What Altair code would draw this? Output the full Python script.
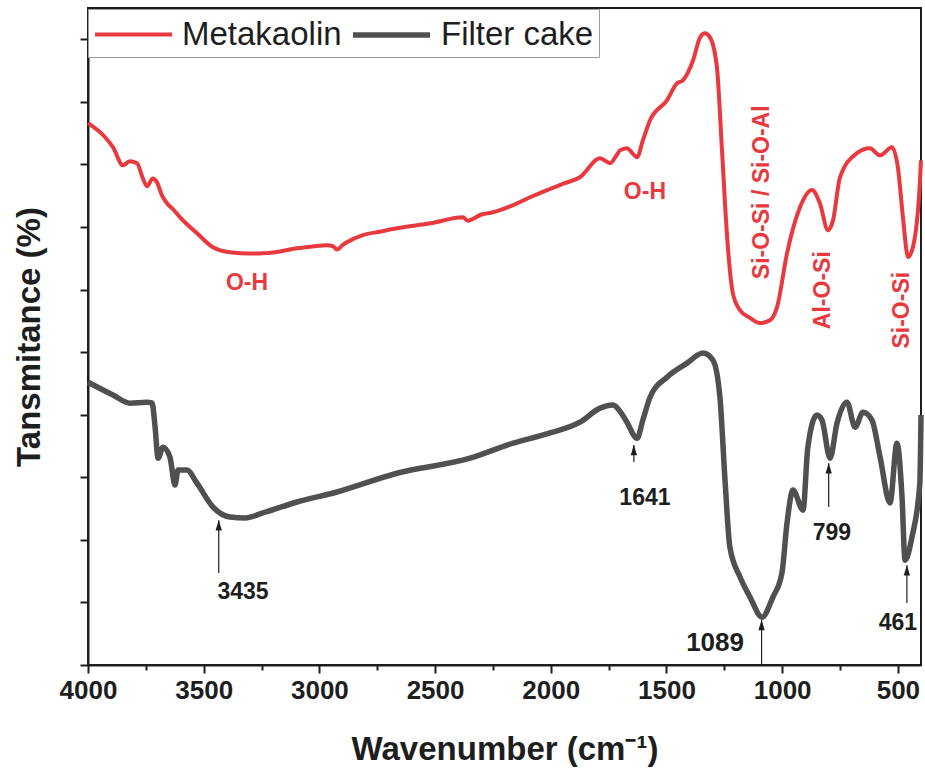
import altair as alt
import pandas as pd

# FTIR spectra: wavenumber (cm^-1) and transmittance (arbitrary offset units)
mk_wn = [4000, 3930, 3892, 3849, 3820, 3788, 3765, 3745, 3720, 3702, 3680, 3659, 3630,
         3602, 3529, 3460, 3386, 3300, 3244, 3170, 3097, 3030, 2967, 2940, 2924, 2900,
         2881, 2812, 2740, 2665, 2520, 2379, 2360, 2349, 2300, 2250, 2163, 2090, 2016,
         1940, 1874, 1787, 1744, 1715, 1701, 1671, 1640, 1627, 1602, 1571, 1498, 1455,
         1429, 1385, 1355, 1334, 1312, 1282, 1260, 1239, 1213, 1182, 1140, 1096, 1053,
         1022, 979, 923, 871, 837, 802, 780, 750, 677, 621, 577, 526, 500, 478, 456,
         435, 405, 400]
mk_t = [17.32, 16.90, 16.55, 15.97, 16.10, 16.04, 15.60, 15.30, 15.55, 15.43, 15.00,
        14.76, 14.55, 14.31, 13.80, 13.35, 13.19, 13.15, 13.16, 13.22, 13.32, 13.38,
        13.42, 13.38, 13.28, 13.42, 13.51, 13.74, 13.85, 13.96, 14.12, 14.31, 14.20,
        14.22, 14.40, 14.47, 14.70, 14.95, 15.18, 15.40, 15.59, 16.20, 16.04, 16.30,
        16.45, 16.52, 16.30, 16.23, 16.77, 17.41, 18.05, 18.59, 18.69, 19.33, 20.06,
        20.19, 20.06, 19.11, 16.45, 13.80, 11.88, 11.34, 11.10, 10.93, 11.02, 11.44,
        13.16, 14.63, 15.18, 14.76, 13.90, 14.22, 15.59, 16.36, 16.52, 16.29, 16.55,
        15.91, 14.31, 13.04, 13.35, 15.40, 16.13]

fc_wn = [4000, 3892, 3818, 3745, 3723, 3710, 3697, 3676, 3646, 3624, 3611, 3572, 3529,
         3460, 3386, 3320, 3244, 3097, 2924, 2665, 2349, 2163, 2010, 1874, 1787, 1731,
         1700, 1671, 1627, 1602, 1571, 1498, 1411, 1342, 1299, 1269, 1247, 1226, 1182,
         1139, 1087, 1040, 1001, 979, 953, 910, 889, 850, 828, 793, 763, 720, 685, 651,
         612, 577, 534, 504, 482, 469, 439, 405, 400]
fc_t = [9.04, 8.63, 8.37, 8.40, 8.37, 7.60, 6.61, 6.96, 6.65, 5.75, 6.23, 6.23, 5.81,
        5.05, 4.73, 4.70, 4.86, 5.21, 5.53, 6.13, 6.61, 7.09, 7.40, 7.76, 8.21, 8.31,
        8.10, 7.76, 7.25, 7.83, 8.56, 9.20, 9.65, 9.97, 9.74, 8.56, 5.91, 3.77, 2.81,
        2.17, 1.53, 2.17, 2.94, 4.54, 5.59, 4.95, 6.96, 7.99, 7.83, 6.61, 7.73, 8.40,
        7.60, 8.08, 7.83, 6.65, 5.18, 7.09, 5.37, 3.35, 4.09, 5.81, 7.99]

series_names = ["Metakaolin", "Filter cake"]
series_colors = ["#e8393f", "#505050"]
series_widths = [4, 5.5]

# Band assignments written in red next to the Metakaolin curve
band_text = ["O-H", "O-H", "Si-O-Si / Si-O-Al", "Al-O-Si", "Si-O-Si"]
band_wn = [3313, 1593, 1087, 824, 482]
band_t = [12.2, 15.12, 15.11, 11.98, 11.34]
band_angle = [0, 0, 270, 270, 270]

# Peak markers on the Filter cake curve
peak_wn = [3435, 1641, 1089, 799, 461]
peak_tip = [4.63, 7.03, 1.44, 6.45, 3.19]
peak_tail = [2.94, 6.49, 0.0, 5.05, 1.98]
peak_label = ["3435", "1641", "1089", "799", "461"]
peak_label_wn = [3330, 1593, 1290, 785, 500]
peak_label_t = [2.33, 5.34, 0.70, 4.22, 1.34]
peak_label_size = [23, 23, 26, 23, 23]

x_ticks = list(range(4000, 499, -250))
y_ticks = list(range(0, 21))

spectra = pd.concat([
    pd.DataFrame({"wn": mk_wn, "t": mk_t, "series": series_names[0]}),
    pd.DataFrame({"wn": fc_wn, "t": fc_t, "series": series_names[1]}),
])
bands = pd.DataFrame({"wn": band_wn, "t": band_t, "text": band_text, "angle": band_angle})
peaks = pd.DataFrame({"wn": peak_wn, "tip": peak_tip, "tail": peak_tail})
peak_labels = pd.DataFrame({"wn": peak_label_wn, "t": peak_label_t,
                            "text": peak_label, "size": peak_label_size})

FONT = "Liberation Sans"
INK = "#1e1e1e"

x_scale = alt.Scale(domain=[400, 4000], reverse=True, nice=False, zero=False)
y_scale = alt.Scale(domain=[0, 21], nice=False, zero=False)

x_axis = alt.Axis(
    values=x_ticks, format="d", grid=False,
    labelExpr="datum.value % 500 === 0 ? datum.label : ''",
    tickSize={"condition": {"test": "datum.value % 500 === 0", "value": 8}, "value": 5},
    tickWidth=2, tickColor=INK, domainColor=INK, domainWidth=2,
    labelFont=FONT, labelFontSize=26, labelFontWeight="bold", labelColor=INK,
    labelPadding=4, labelFlush=False,
    title="Wavenumber (cm⁻¹)", titleFont=FONT, titleFontSize=33,
    titleFontWeight="bold", titleColor=INK, titlePadding=30,
)
y_axis = alt.Axis(
    values=y_ticks, labels=False, grid=False,
    tickSize={"condition": {"test": "datum.value % 2 === 0", "value": 8}, "value": 5},
    tickWidth=2, tickColor=INK, domainColor=INK, domainWidth=2,
    title="Tansmitance (%)", titleFont=FONT, titleFontSize=33,
    titleFontWeight="bold", titleColor=INK, titlePadding=33,
)

# A short nominal symbol keeps the legend row compact; the path itself runs
# further to the right so the drawn swatch is a long stroke.
legend_swatch = "M-1,0H3.28"

lines = alt.Chart(spectra).mark_line(interpolate="monotone", strokeJoin="round").encode(
    x=alt.X("wn:Q", scale=x_scale, axis=x_axis),
    y=alt.Y("t:Q", scale=y_scale, axis=y_axis),
    color=alt.Color(
        "series:N",
        scale=alt.Scale(domain=series_names, range=series_colors),
        legend=alt.Legend(
            title=None, orient="none", legendX=0, legendY=1, direction="horizontal",
            symbolType=legend_swatch, symbolSize=1296, symbolStrokeWidth=5,
            labelFont=FONT, labelFontSize=33, labelColor=INK, labelOffset=49,
            columnPadding=0, padding=5, fillColor="white", strokeColor="#9a9a9a",
        ),
    ),
    strokeWidth=alt.StrokeWidth("series:N",
                                scale=alt.Scale(domain=series_names, range=series_widths),
                                legend=None),
    order=alt.Order("wn:Q", sort="descending"),
    detail="series:N",
)

band_marks = alt.Chart(bands).mark_text(
    font=FONT, fontSize=23, fontWeight="bold", color="#e8393f",
    align="center", baseline="middle",
).encode(
    x=alt.X("wn:Q", scale=x_scale),
    y=alt.Y("t:Q", scale=y_scale),
    text="text:N",
    angle=alt.Angle("angle:Q", scale=None),
)

arrow_shafts = alt.Chart(peaks).mark_rule(color=INK, strokeWidth=1.2).encode(
    x=alt.X("wn:Q", scale=x_scale),
    y=alt.Y("tip:Q", scale=y_scale),
    y2="tail:Q",
)
arrow_heads = alt.Chart(peaks).mark_point(
    shape="M0,-1L0.6,1L-0.6,1Z", filled=True, color=INK, opacity=1,
    size=110, yOffset=5,
).encode(
    x=alt.X("wn:Q", scale=x_scale),
    y=alt.Y("tip:Q", scale=y_scale),
)
peak_text = alt.Chart(peak_labels).mark_text(
    font=FONT, fontWeight="bold", color=INK, align="center", baseline="middle",
).encode(
    x=alt.X("wn:Q", scale=x_scale),
    y=alt.Y("t:Q", scale=y_scale),
    text="text:N",
    size=alt.Size("size:Q", scale=None),
)

chart = alt.layer(lines, band_marks, arrow_shafts, arrow_heads, peak_text).properties(
    width=833, height=657,
    padding={"left": 88, "top": 8, "right": 4, "bottom": 111},
    autosize=alt.AutoSizeParams(type="none"),
    background="white",
).configure_view(stroke=INK, strokeWidth=2)

chart.save("out.html", embed_options={"renderer": "svg", "actions": False})
